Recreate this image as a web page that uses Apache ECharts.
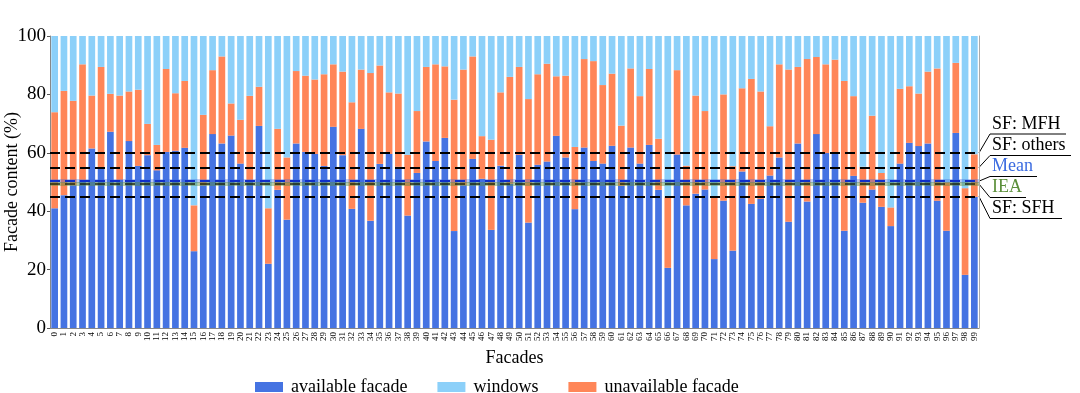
<!DOCTYPE html>
<html>
<head>
<meta charset="utf-8">
<style>
html,body{margin:0;padding:0;background:#fff;}
#chart{width:1080px;height:393px;}
</style>
<script src="https://cdn.jsdelivr.net/npm/echarts@6/dist/echarts.min.js"></script>
</head>
<body>
<div id="chart"></div>
<script>
const categories = Array.from({length: 100}, (_, i) => String(i));

const available = [41.0,45.5,48.9,50.7,61.5,54.7,67.2,50.7,64.0,55.5,59.2,54.0,60.3,60.7,61.7,26.3,48.9,66.4,63.2,65.9,
56.3,50.1,69.2,22.0,47.3,37.1,63.2,60.3,59.6,55.5,68.9,59.2,40.8,68.2,36.7,56.2,59.6,55.2,38.5,53.1,
63.9,57.2,65.1,33.2,48.9,57.9,51.1,33.6,55.6,49.4,59.3,36.1,55.9,57.0,65.8,58.4,40.7,61.8,57.2,56.3,
62.4,48.7,61.8,56.3,62.7,47.3,20.6,59.4,42.0,46.0,47.4,23.6,43.6,26.5,53.6,42.5,44.2,52.2,58.4,36.4,
63.2,43.3,66.4,59.9,59.6,33.3,52.1,42.9,47.4,41.5,34.9,56.3,63.4,62.3,63.2,43.6,33.3,66.8,18.2,44.9];

const unavailable = [32.9,35.7,28.9,39.6,18.1,34.7,13.0,28.9,17.0,26.1,10.7,8.7,28.4,19.7,22.9,15.7,24.1,21.9,29.8,11.0,
15.0,29.4,13.4,19.0,20.9,21.3,24.8,26.1,25.5,31.4,21.4,28.6,36.5,20.3,50.6,33.7,21.1,25.1,20.8,21.2,
25.5,33.1,24.5,45.0,39.6,35.1,14.6,30.9,25.1,36.6,30.1,42.3,31.0,33.5,20.4,28.0,21.3,30.3,34.2,26.9,
24.7,20.6,27.1,23.1,26.0,17.5,24.2,28.9,13.6,33.6,26.9,21.2,36.4,28.9,28.5,42.8,36.8,16.9,31.9,52.1,
26.2,48.8,26.4,30.4,32.3,51.3,27.3,12.3,25.3,11.6,6.4,25.6,19.4,18.0,24.6,45.3,16.6,24.0,29.7,14.6];

const windows = [26.1,18.8,22.2,9.7,20.4,10.6,19.8,20.4,19.0,18.4,30.1,37.3,11.3,19.6,15.4,58.0,27.0,11.7,7.0,23.1,
28.7,20.5,17.4,59.0,31.8,41.6,12.0,13.6,14.9,13.1,9.7,12.2,22.7,11.5,12.7,10.1,19.3,19.7,40.7,25.7,
10.6,9.7,10.4,21.8,11.5,7.0,34.3,35.5,19.3,14.0,10.6,21.6,13.1,9.5,13.8,13.6,38.0,7.9,8.6,16.8,
12.9,30.7,11.1,20.6,11.3,35.2,55.2,11.7,44.4,20.4,25.7,55.2,20.0,44.6,17.9,14.7,19.0,30.9,9.7,11.5,
10.6,7.9,7.2,9.7,8.1,15.4,20.6,44.8,27.3,46.9,58.7,18.1,17.2,19.7,12.2,11.1,50.1,9.2,52.1,40.5];

const refNames = ['SF: MFH', 'SF: others', 'Mean', 'IEA', 'SF: SFH'];
const refValues = [60, 55, 50.3, 49.3, 45];
const yTicks = [0, 20, 40, 60, 80, 100];

const FONT = '"Liberation Serif", "Times New Roman", serif';
const C_AV = '#3b6be0';
const C_WIN = '#86cdf9';
const C_UN = '#ff7f4f';
const C_MEAN = '#3b6be0';
const C_IEA = '#5b8f3a';

const chart = echarts.init(document.getElementById('chart'), null, {renderer: 'canvas'});

const GRID = {left: 50, right: 101, top: 36, bottom: 65, outerBoundsMode: 'none', containLabel: false};

const blackDash = (v) => ({yAxis: v, lineStyle: {color: '#000', width: 2, type: [10, 5]}});

const option = {
  backgroundColor: '#fff',
  animation: false,
  grid: GRID,
  legend: {
    data: ['available facade', 'windows', 'unavailable facade'],
    left: 250, top: 373,
    itemWidth: 28, itemHeight: 10, itemGap: 30,
    textStyle: {fontFamily: FONT, fontSize: 18, color: '#000', padding: [0, 0, 0, 3]},
    icon: 'rect'
  },
  xAxis: {
    type: 'category',
    data: categories,
    name: 'Facades',
    nameLocation: 'middle',
    nameGap: 21,
    nameTextStyle: {fontFamily: FONT, fontSize: 18, color: '#000'},
    axisLine: {lineStyle: {color: '#888', width: 1}},
    axisTick: {alignWithLabel: true, length: 3, lineStyle: {color: '#555'}},
    axisLabel: {interval: 0, rotate: 90, fontFamily: FONT, fontSize: 9, color: '#000', margin: 4},
  },
  yAxis: [{
    type: 'value',
    min: 0, max: 100, interval: 20,
    name: 'Facade content (%)',
    nameLocation: 'middle',
    nameGap: 29,
    nameMoveOverlap: false,
    nameTextStyle: {fontFamily: FONT, fontSize: 18, color: '#000'},
    axisLine: {show: true, lineStyle: {color: '#888'}},
    axisTick: {show: true, length: 3, lineStyle: {color: '#555'}},
    axisLabel: {fontFamily: FONT, fontSize: 19, color: '#000', margin: 4,
      formatter: (v) => yTicks.includes(v) ? String(v) : ''},
    splitLine: {show: false}
  }, {
    type: 'value', position: 'right', min: 0, max: 100,
    axisLine: {show: true, lineStyle: {color: '#aaa'}},
    axisTick: {show: false}, axisLabel: {show: false}, splitLine: {show: false}
  }],
  series: [
    {
      name: 'available facade', type: 'bar', stack: 'f', data: available,
      barCategoryGap: '28%',
      itemStyle: {color: C_AV, opacity: 0.95}
    },
    {
      name: 'unavailable facade', type: 'bar', stack: 'f', data: unavailable,
      itemStyle: {color: C_UN, opacity: 0.95}
    },
    {
      name: 'windows', type: 'bar', stack: 'f', data: windows,
      itemStyle: {color: C_WIN, opacity: 0.95},
      markLine: {
        silent: true, symbol: 'none', label: {show: false},
        data: [
          blackDash(refValues[0]),
          blackDash(refValues[1]),
          {yAxis: refValues[2], lineStyle: {color: C_MEAN, width: 4, type: 'solid', opacity: 0.35}},
          {yAxis: refValues[2], lineStyle: {color: '#1030c8', width: 2, type: [10, 5]}},
          {yAxis: refValues[3], lineStyle: {color: C_IEA, width: 4, type: 'solid', opacity: 0.45}},
          {yAxis: refValues[3], lineStyle: {color: '#1f2a10', width: 1.5, type: [10, 5]}},
          blackDash(refValues[4])
        ]
      }
    }
  ]
};
chart.setOption(option);

// Right-side annotations with leader lines
const labelY = [134, 155.5, 176.5, 197.5, 218.5];
const labelW = [76, 81, 47, 36, 72];
const labelColors = ['#000', '#000', C_MEAN, C_IEA, '#000'];
const xEdge = 1080 - GRID.right;
const xLab = xEdge + 11;
const elements = [];
refNames.forEach((name, i) => {
  const py = chart.convertToPixel({yAxisIndex: 0}, refValues[i]);
  elements.push({
    type: 'line', silent: true,
    shape: {x1: xEdge, y1: py, x2: xLab, y2: labelY[i]},
    style: {stroke: '#000', lineWidth: 1}
  });
  elements.push({
    type: 'line', silent: true,
    shape: {x1: xLab, y1: labelY[i], x2: xLab + labelW[i], y2: labelY[i]},
    style: {stroke: '#000', lineWidth: 1}
  });
  elements.push({
    type: 'text', silent: true,
    x: xLab + 2, y: labelY[i] - 1,
    style: {text: name, fill: labelColors[i], font: '18px ' + FONT, textVerticalAlign: 'bottom', textAlign: 'left'}
  });
});
chart.setOption({graphic: {elements: elements}});
</script>
</body>
</html>
